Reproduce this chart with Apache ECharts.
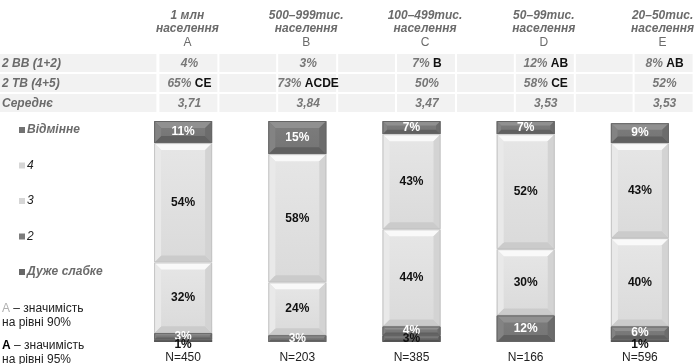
<!DOCTYPE html>
<html>
<head>
<meta charset="utf-8">
<script src="https://cdn.jsdelivr.net/npm/echarts@6/dist/echarts.min.js"></script>
<style>
  html, body { margin: 0; padding: 0; background: #fff; }
  #chart { width: 697px; height: 364px; }
</style>
</head>
<body>
<div id="chart"></div>
<script>
// Groups of towns by population size
const groupTitles = ['1 млн', '500–999тис.', '100–499тис.', '50–99тис.', '20–50тис.'];
const groupSub = 'населення';
const groupLetters = ['A', 'B', 'C', 'D', 'E'];
const sampleLabels = ['N=450', 'N=203', 'N=385', 'N=166', 'N=596'];

// Rating shares, % (bottom to top of each bar)
const levels = ['Дуже слабке', '2', '3', '4', 'Відмінне'];
const veryWeak = [1, 0, 3, 0, 1];
const grade2 = [3, 3, 4, 12, 6];
const grade3 = [32, 24, 44, 30, 40];
const grade4 = [54, 58, 43, 52, 43];
const excellent = [11, 15, 7, 7, 9];

// Summary table
const rowLabels = ['2 ВВ (1+2)', '2 ТВ (4+5)', 'Середнє'];
const bottomTwo = ['4%', '3%', '7%', '12%', '8%'];
const bottomTwoSig = ['', '', 'B', 'AB', 'AB'];
const topTwo = ['65%', '73%', '50%', '58%', '52%'];
const topTwoSig = ['CE', 'ACDE', '', 'CE', ''];
const meanScore = ['3,71', '3,84', '3,47', '3,53', '3,53'];

const FONT = '"Liberation Sans", Arial, sans-serif';
const seriesValues = [veryWeak, grade2, grade3, grade4, excellent];

// Palettes: face gradient, bevels, label colour
const LIGHT = { face0: '#e6e6e6', face1: '#dadada', top: '#f9f9f9', bottom: '#cbcbcb', left: '#e9e9e9', right: '#d3d3d3', edge: '#c4c4c4', label: '#111' };
const DARK = { face0: '#7d7d7d', face1: '#747474', top: '#909090', bottom: '#606060', left: '#838383', right: '#6c6c6c', edge: '#666', label: '#fff' };
const VDARK = { face0: '#6e6e6e', face1: '#656565', top: '#858585', bottom: '#525252', left: '#747474', right: '#5e5e5e', edge: '#555', label: '#111' };
const palettes = [VDARK, DARK, LIGHT, LIGHT, DARK];
const legendColors = ['#676767', '#7c7c7c', '#d6d6d6', '#d6d6d6', '#727272'];

// Cumulative stacks for each level
const stacked = seriesValues.map(() => []);
const running = groupLetters.map(() => 0);
seriesValues.forEach((vals, s) => {
  vals.forEach((v, i) => {
    stacked[s].push([i, running[i], running[i] + v, v]);
    running[i] += v;
  });
});

const BAR_W = 58;

function makeRender(s) {
  const pal = palettes[s];
  return function (params, api) {
    const v = api.value(3);
    if (!v) return null;
    const cat = api.value(0);
    const p0 = api.coord([cat, api.value(1)]);
    const p1 = api.coord([cat, api.value(2)]);
    const ceil = api.coord([cat, 100])[1];
    const x = p0[0] - BAR_W / 2;
    const y = Math.max(p1[1], ceil);
    const w = BAR_W;
    const h = p0[1] - y;
    const b = Math.max(0.5, Math.min(7, h / 3));
    const children = [
      { type: 'rect', shape: { x: x, y: y, width: w, height: h },
        style: { fill: new echarts.graphic.LinearGradient(0, 0, 0, 1, [
          { offset: 0, color: pal.face0 }, { offset: 1, color: pal.face1 }]) } },
      { type: 'polygon', shape: { points: [[x, y], [x + w, y], [x + w - b, y + b], [x + b, y + b]] }, style: { fill: pal.top } },
      { type: 'polygon', shape: { points: [[x, y + h], [x + w, y + h], [x + w - b, y + h - b], [x + b, y + h - b]] }, style: { fill: pal.bottom } },
      { type: 'polygon', shape: { points: [[x, y], [x + b, y + b], [x + b, y + h - b], [x, y + h]] }, style: { fill: pal.left } },
      { type: 'polygon', shape: { points: [[x + w, y], [x + w - b, y + b], [x + w - b, y + h - b], [x + w, y + h]] }, style: { fill: pal.right } },
      { type: 'rect', shape: { x: x + 0.5, y: y + 0.5, width: w - 1, height: Math.max(0, h - 1) },
        style: { fill: 'none', stroke: pal.edge, lineWidth: 1 } }
    ];
    const dy = h < 4 ? 4 : 0;
    children.push({
      type: 'text',
      style: {
        text: v + '%', x: p0[0], y: y + h / 2 + dy,
        align: 'center', verticalAlign: 'middle',
        fill: pal.label, font: 'bold 12px ' + FONT
      },
      z2: 10
    });
    return { type: 'group', children: children };
  };
}

const series = levels.map((name, s) => ({
  type: 'custom',
  name: name,
  coordinateSystem: 'cartesian2d',
  data: stacked[s],
  encode: { x: 0, y: [1, 2] },
  itemStyle: { color: legendColors[s] },
  renderItem: makeRender(s),
  z: 2 + (4 - s)
}));

// Table and header graphics
const GRID_LEFT = 126, BAND = 118.8;
const centers = groupLetters.map((_, i) => GRID_LEFT + BAND * (i + 0.5));
const rowTops = [54, 74, 94];
const ROW_H = 18;
const graphics = [];

rowTops.forEach((top, r) => {
  graphics.push({ type: 'rect', shape: { x: 0, y: top, width: centers[0] - 29, height: ROW_H }, style: { fill: '#f2f2f2' }, silent: true });
  centers.forEach((c, i) => {
    graphics.push({ type: 'rect', shape: { x: c - 26, y: top, width: 58, height: ROW_H }, style: { fill: '#f2f2f2' }, silent: true });
    if (i < centers.length - 1) {
      graphics.push({ type: 'rect', shape: { x: c + 34, y: top, width: centers[i + 1] - c - 62, height: ROW_H }, style: { fill: '#f2f2f2' }, silent: true });
    }
  });
  graphics.push({ type: 'text', x: 2, y: top + ROW_H / 2 + 0.5,
    style: { text: rowLabels[r], fill: '#6b6b6b', font: 'italic bold 12px ' + FONT, verticalAlign: 'middle' }, silent: true });
});

const tableRows = [[bottomTwo, bottomTwoSig], [topTwo, topTwoSig], [meanScore, null]];
const rich = {
  v: { fill: '#777', font: 'italic bold 12px ' + FONT },
  s: { fill: '#111', font: 'bold 12px ' + FONT }
};
tableRows.forEach(([vals, sig], r) => {
  centers.forEach((c, i) => {
    const txt = '{v|' + vals[i] + '}' + (sig && sig[i] ? '{s| ' + sig[i] + '}' : '');
    graphics.push({ type: 'text', x: c + 4, y: rowTops[r] + ROW_H / 2 + 0.5,
      style: { text: txt, rich: rich, align: 'center', verticalAlign: 'middle' }, silent: true });
  });
});

centers.forEach((c, i) => {
  graphics.push({ type: 'text', x: c + 2, y: 16, style: { text: groupTitles[i], fill: '#6b6b6b', font: 'italic bold 12px ' + FONT, align: 'center', verticalAlign: 'middle' }, silent: true });
  graphics.push({ type: 'text', x: c + 2, y: 29, style: { text: groupSub, fill: '#6b6b6b', font: 'italic bold 12px ' + FONT, align: 'center', verticalAlign: 'middle' }, silent: true });
  graphics.push({ type: 'text', x: c + 2, y: 43, style: { text: groupLetters[i], fill: '#6b6b6b', font: '12px ' + FONT, align: 'center', verticalAlign: 'middle' }, silent: true });
});

// Significance notes
const noteRich = {
  a1: { fill: '#b0b0b0', font: '12px ' + FONT },
  a2: { fill: '#000', font: 'bold 12px ' + FONT },
  t: { fill: '#222', font: '12px ' + FONT, lineHeight: 14 }
};
graphics.push({ type: 'text', x: 2, y: 302, style: { text: '{a1|A}{t| – значимість}\n{t|на рівні 90%}', rich: noteRich, verticalAlign: 'top' }, silent: true });
graphics.push({ type: 'text', x: 2, y: 339, style: { text: '{a2|A}{t| – значимість}\n{t|на рівні 95%}', rich: noteRich, verticalAlign: 'top' }, silent: true });

const chart = echarts.init(document.getElementById('chart'), null, { renderer: 'canvas' });
chart.setOption({
  animation: false,
  backgroundColor: '#fff',
  textStyle: { fontFamily: FONT },
  grid: { left: GRID_LEFT, top: 121, width: BAND * 5, height: 221, containLabel: false },
  xAxis: {
    type: 'category',
    data: sampleLabels,
    axisLine: { show: false },
    axisTick: { show: false },
    axisLabel: { color: '#222', fontSize: 12, margin: 10, fontFamily: FONT }
  },
  yAxis: { type: 'value', min: 0, max: 100, show: false, splitLine: { show: false } },
  legend: {
    orient: 'vertical',
    left: 14,
    top: 118,
    itemWidth: 6,
    itemHeight: 6,
    itemGap: 21.5,
    icon: 'rect',
    data: ['Відмінне', '4', '3', '2', 'Дуже слабке'],
    formatter: function (name) {
      return (name === 'Відмінне' || name === 'Дуже слабке') ? '{b|' + name + '}' : '{n|' + name + '}';
    },
    textStyle: {
      lineHeight: 14,
      padding: [0, 0, 0, -3],
      rich: {
        b: { fontStyle: 'italic', fontWeight: 'bold', color: '#6b6b6b', fontSize: 12, fontFamily: FONT },
        n: { fontStyle: 'italic', color: '#222', fontSize: 12, fontFamily: FONT }
      }
    },
    selectedMode: false
  },
  graphic: graphics,
  series: series
});
</script>
</body>
</html>
